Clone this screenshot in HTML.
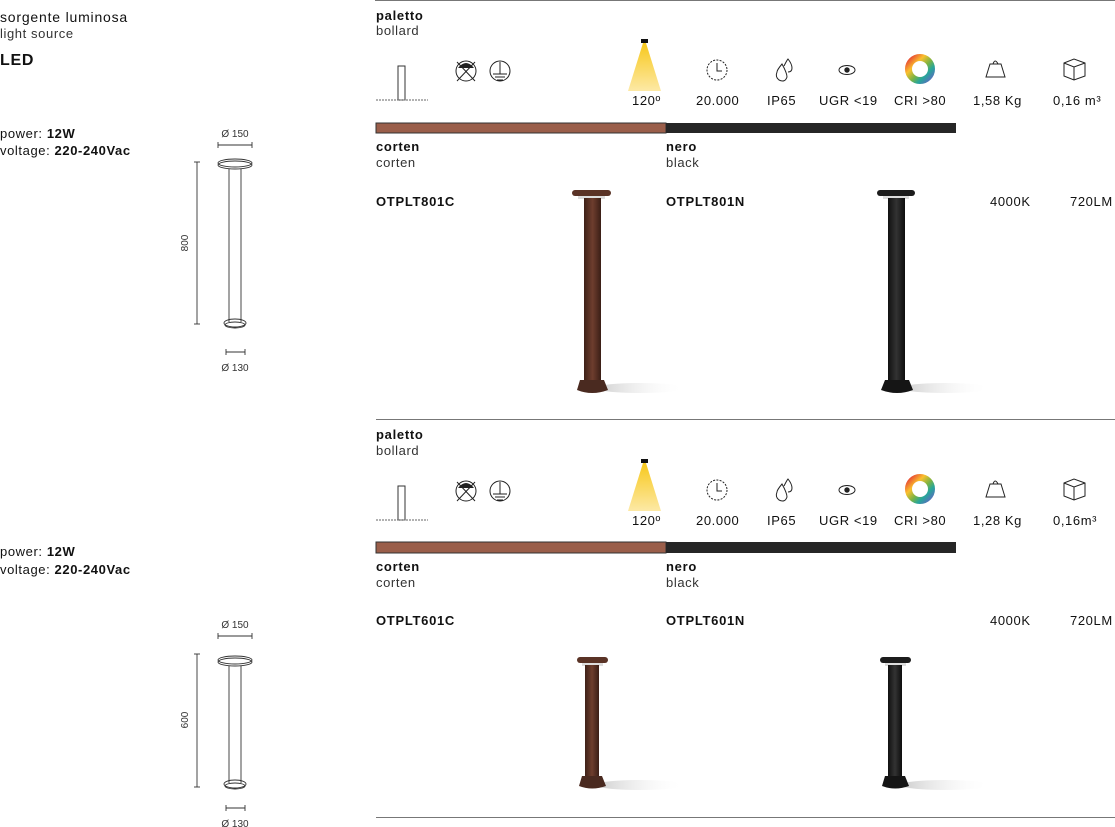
<!DOCTYPE html>
<html><head><meta charset="utf-8"><style>
body{margin:0;width:1115px;height:827px;background:#fff;position:relative;font-family:"Liberation Sans",sans-serif;color:#111;overflow:hidden}
.t{position:absolute;font-size:13px;white-space:nowrap;line-height:1;letter-spacing:.6px}
.b{font-weight:bold;letter-spacing:.7px}
.l{color:#333}
</style></head><body>
<div class="t" style="left:0;top:10px;font-size:14px;letter-spacing:.8px">sorgente luminosa</div>
<div class="t l" style="left:0;top:27px">light source</div>
<div class="t b" style="left:0;top:53px;font-size:16px">LED</div>
<div class="t" style="left:0;top:127px">power: <b>12W</b></div>
<div class="t" style="left:0;top:144px">voltage: <b>220-240Vac</b></div>
<div class="t" style="left:0;top:545px">power: <b>12W</b></div>
<div class="t" style="left:0;top:563px">voltage: <b>220-240Vac</b></div>

<svg width="1115" height="827" style="position:absolute;left:0;top:0" font-family="Liberation Sans, sans-serif">
<defs>
<g id="icons">
 <rect x="398" y="66" width="7" height="34" fill="none" stroke="#333" stroke-width="1"/>
 <line x1="376" y1="100" x2="428" y2="100" stroke="#666" stroke-dasharray="2,1"/>
 <circle cx="466" cy="71" r="10" fill="none" stroke="#222"/>
 <path d="M458 68 Q466 58 474 68 Z" fill="#222"/>
 <line x1="457" y1="62" x2="475" y2="81" stroke="#222"/><line x1="475" y1="62" x2="457" y2="81" stroke="#222"/>
 <circle cx="500" cy="71" r="10" fill="none" stroke="#222"/>
 <line x1="500" y1="62" x2="500" y2="74" stroke="#222"/><line x1="493" y1="74" x2="507" y2="74" stroke="#222"/><line x1="495" y1="77" x2="505" y2="77" stroke="#222"/><line x1="497" y1="80" x2="503" y2="80" stroke="#222"/>
 <rect x="641" y="39" width="7" height="4" fill="#111"/>
 <polygon points="643,43 646,43 661,91 628,91" fill="url(#beam)"/>
 <circle cx="717" cy="70" r="10" fill="none" stroke="#222" stroke-dasharray="2,1.3"/>
 <path d="M717 63 V71 H722" fill="none" stroke="#222"/>
 <path d="M777 72 q-2 5 2 8 q6 3 8 -3 q0 -4 -5 -13 q-5 6 -5 8z M784 66 q3 -6 4 -7 q4 5 4 9 q0 4 -4 4" fill="none" stroke="#222"/>
 <ellipse cx="847" cy="70" rx="8" ry="4.5" fill="none" stroke="#222"/><circle cx="847" cy="70" r="2.7" fill="#222"/>
 <circle cx="920" cy="69" r="11.5" fill="none" stroke="url(#cw)" stroke-width="7"/>
 <path d="M986 77 L990 64 H1001 L1005 77 Z" fill="none" stroke="#222"/><path d="M993 64 q2 -6 5 0" fill="none" stroke="#222"/>
 <path d="M1064 63 L1074 59 L1085 63 V76 L1074 80 L1064 76 Z M1064 63 L1074 67 L1085 63 M1074 67 V80" fill="none" stroke="#222"/>
</g>
<linearGradient id="beam" x1="0" y1="0" x2="0" y2="1"><stop offset="0" stop-color="#f7c81c"/><stop offset="1" stop-color="#fde9a6"/></linearGradient>
<linearGradient id="cw" x1="0" y1="0" x2="1" y2="1"><stop offset="0" stop-color="#e53935"/><stop offset=".3" stop-color="#fbc02d"/><stop offset=".55" stop-color="#7cb342"/><stop offset=".75" stop-color="#26a69a"/><stop offset="1" stop-color="#5c6bc0"/></linearGradient>
<linearGradient id="cor" x1="0" x2="1"><stop offset="0" stop-color="#3e2118"/><stop offset=".5" stop-color="#6e3e2e"/><stop offset="1" stop-color="#3a1e16"/></linearGradient>
<linearGradient id="blk" x1="0" x2="1"><stop offset="0" stop-color="#111"/><stop offset=".5" stop-color="#333"/><stop offset="1" stop-color="#0d0d0d"/></linearGradient>
<linearGradient id="shd" x1="0" x2="1"><stop offset="0" stop-color="#ccc"/><stop offset="1" stop-color="#fff" stop-opacity="0"/></linearGradient>
</defs>

<line x1="375" y1="0.5" x2="1115" y2="0.5" stroke="#777"/>
<line x1="376" y1="419.5" x2="1115" y2="419.5" stroke="#777"/>
<line x1="376" y1="817.5" x2="1115" y2="817.5" stroke="#777"/>

<use href="#icons"/>
<use href="#icons" transform="translate(0,420)"/>

<rect x="376" y="123" width="290" height="10" fill="#9a5e4a" stroke="#333" stroke-width="1"/>
<rect x="666" y="123" width="290" height="10" fill="#262626"/>
<rect x="376" y="542" width="290" height="11" fill="#9a5e4a" stroke="#333" stroke-width="1"/>
<rect x="666" y="542" width="290" height="11" fill="#262626"/>

<g stroke="#333" fill="none" stroke-width="0.9">
 <line x1="218" y1="145" x2="252" y2="145"/><line x1="218" y1="142" x2="218" y2="148"/><line x1="252" y1="142" x2="252" y2="148"/>
 <ellipse cx="235" cy="163" rx="17" ry="4"/><ellipse cx="235" cy="165" rx="17" ry="4"/>
 <line x1="229" y1="169" x2="229" y2="322"/><line x1="241" y1="169" x2="241" y2="322"/>
 <ellipse cx="235" cy="323" rx="11" ry="4"/><ellipse cx="235" cy="325" rx="10" ry="3"/>
 <line x1="197" y1="162" x2="197" y2="324"/><line x1="194" y1="162" x2="200" y2="162"/><line x1="194" y1="324" x2="200" y2="324"/>
 <line x1="226" y1="352" x2="245" y2="352"/><line x1="226" y1="349" x2="226" y2="355"/><line x1="245" y1="349" x2="245" y2="355"/>
</g>
<g stroke="#333" fill="none" stroke-width="0.9">
 <line x1="218" y1="636" x2="252" y2="636"/><line x1="218" y1="633" x2="218" y2="639"/><line x1="252" y1="633" x2="252" y2="639"/>
 <ellipse cx="235" cy="660" rx="17" ry="4"/><ellipse cx="235" cy="662" rx="17" ry="4"/>
 <line x1="229" y1="666" x2="229" y2="783"/><line x1="241" y1="666" x2="241" y2="783"/>
 <ellipse cx="235" cy="784" rx="11" ry="4"/><ellipse cx="235" cy="786" rx="10" ry="3"/>
 <line x1="197" y1="654" x2="197" y2="787"/><line x1="194" y1="654" x2="200" y2="654"/><line x1="194" y1="787" x2="200" y2="787"/>
 <line x1="226" y1="808" x2="245" y2="808"/><line x1="226" y1="805" x2="226" y2="811"/><line x1="245" y1="805" x2="245" y2="811"/>
</g>
<g font-size="10" fill="#333" text-anchor="middle">
 <text x="235" y="137">Ø 150</text><text x="235" y="371">Ø 130</text>
 <text x="188" y="243" transform="rotate(-90 188 243)">800</text>
 <text x="235" y="628">Ø 150</text><text x="235" y="827">Ø 130</text>
 <text x="188" y="720" transform="rotate(-90 188 720)">600</text>
</g>

<ellipse cx="640" cy="388" rx="45" ry="5" fill="url(#shd)"/>
<ellipse cx="945" cy="388" rx="45" ry="5" fill="url(#shd)"/>
<rect x="572" y="190" width="39" height="6" rx="3" fill="#5a3326"/><rect x="578" y="196" width="27" height="3" fill="#ddd"/>
<rect x="584" y="198" width="17" height="184" fill="url(#cor)"/>
<path d="M580 380 H604 L608 390 Q592 396 577 390 Z" fill="#4a2a20"/>
<rect x="877" y="190" width="38" height="6" rx="3" fill="#1c1c1c"/><rect x="883" y="196" width="26" height="3" fill="#ddd"/>
<rect x="888" y="198" width="17" height="184" fill="url(#blk)"/>
<path d="M885 380 H909 L913 390 Q897 396 881 390 Z" fill="#151515"/>
<ellipse cx="640" cy="785" rx="45" ry="5" fill="url(#shd)"/>
<ellipse cx="945" cy="785" rx="45" ry="5" fill="url(#shd)"/>
<rect x="577" y="657" width="31" height="6" rx="3" fill="#5a3326"/><rect x="582" y="663" width="21" height="3" fill="#ddd"/>
<rect x="585" y="665" width="14" height="113" fill="url(#cor)"/>
<path d="M582 776 H602 L606 786 Q592 791 579 786 Z" fill="#4a2a20"/>
<rect x="880" y="657" width="31" height="6" rx="3" fill="#1c1c1c"/><rect x="885" y="663" width="21" height="3" fill="#ddd"/>
<rect x="888" y="665" width="14" height="113" fill="url(#blk)"/>
<path d="M885 776 H905 L909 786 Q895 791 882 786 Z" fill="#151515"/>
</svg>

<div class="t b" style="left:376px;top:9px">paletto</div>
<div class="t l" style="left:376px;top:24px">bollard</div>
<div class="t" style="left:632px;top:94px">120º</div>
<div class="t" style="left:696px;top:94px">20.000</div>
<div class="t" style="left:767px;top:94px">IP65</div>
<div class="t" style="left:819px;top:94px">UGR &lt;19</div>
<div class="t" style="left:894px;top:94px">CRI &gt;80</div>
<div class="t" style="left:973px;top:94px">1,58 Kg</div>
<div class="t" style="left:1053px;top:94px">0,16 m³</div>
<div class="t b" style="left:376px;top:140px">corten</div>
<div class="t l" style="left:376px;top:156px">corten</div>
<div class="t b" style="left:666px;top:140px">nero</div>
<div class="t l" style="left:666px;top:156px">black</div>
<div class="t b" style="left:376px;top:195px">OTPLT801C</div>
<div class="t b" style="left:666px;top:195px">OTPLT801N</div>
<div class="t" style="left:990px;top:195px">4000K</div>
<div class="t" style="left:1070px;top:195px">720LM</div>

<div class="t b" style="left:376px;top:428px">paletto</div>
<div class="t l" style="left:376px;top:444px">bollard</div>
<div class="t" style="left:632px;top:514px">120º</div>
<div class="t" style="left:696px;top:514px">20.000</div>
<div class="t" style="left:767px;top:514px">IP65</div>
<div class="t" style="left:819px;top:514px">UGR &lt;19</div>
<div class="t" style="left:894px;top:514px">CRI &gt;80</div>
<div class="t" style="left:973px;top:514px">1,28 Kg</div>
<div class="t" style="left:1053px;top:514px">0,16m³</div>
<div class="t b" style="left:376px;top:560px">corten</div>
<div class="t l" style="left:376px;top:576px">corten</div>
<div class="t b" style="left:666px;top:560px">nero</div>
<div class="t l" style="left:666px;top:576px">black</div>
<div class="t b" style="left:376px;top:614px">OTPLT601C</div>
<div class="t b" style="left:666px;top:614px">OTPLT601N</div>
<div class="t" style="left:990px;top:614px">4000K</div>
<div class="t" style="left:1070px;top:614px">720LM</div>
</body></html>
